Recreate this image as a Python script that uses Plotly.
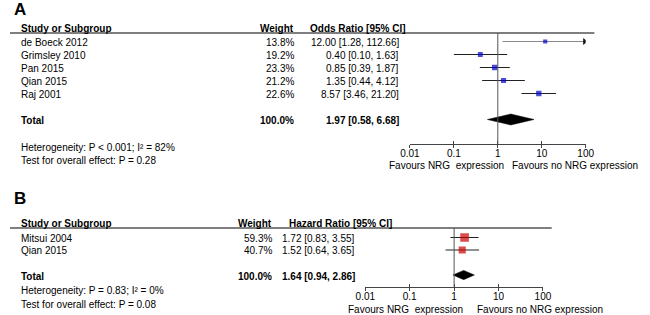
import plotly.graph_objects as go

# ---------------- data ----------------
studies_a = ["de Boeck 2012", "Grimsley 2010", "Pan 2015", "Qian 2015", "Raj 2001"]
weights_a = [13.8, 19.2, 23.3, 21.2, 22.6]
or_a = [12.00, 0.40, 0.85, 1.35, 8.57]
lo_a = [1.28, 0.10, 0.39, 0.44, 3.46]
hi_a = [112.66, 1.63, 1.87, 4.12, 21.20]
total_a = [1.97, 0.58, 6.68]  # est, lo, hi
het_a = "Heterogeneity: P < 0.001; I² = 82%"
test_a = "Test for overall effect: P = 0.28"

studies_b = ["Mitsui 2004", "Qian 2015"]
weights_b = [59.3, 40.7]
hr_b = [1.72, 1.52]
lo_b = [0.83, 0.64]
hi_b = [3.55, 3.65]
total_b = [1.64, 0.94, 2.86]
het_b = "Heterogeneity: P = 0.83; I² = 0%"
test_b = "Test for overall effect: P = 0.08"

tick_vals = [0.01, 0.1, 1, 10, 100]
tick_text = ["0.01", "0.1", "1", "10", "100"]
fav_left = "Favours NRG\u00a0\u00a0expression"
fav_right = "Favours no NRG expression"

# ---------------- layout helpers ----------------
W, H = 650, 315
FONT = "Liberation Sans, Arial, sans-serif"
def fx(px): return px / W
def fy(py): return 1 - py / H

fig = go.Figure()
annos = []
shapes = []

def txt(s, x, y, anchor="left", bold=False, size=10, color="#000"):
    annos.append(dict(text=f"<b>{s}</b>" if bold else s, x=fx(x), y=fy(y),
                      xref="paper", yref="paper", xanchor=anchor, yanchor="middle",
                      showarrow=False, font=dict(family=FONT, size=size, color=color)))

def panel(label, studies, weights, est, lo, hi, total, het, test, *,
          xa, ya, label_y, head_y, row0, step, total_y, axis_y, x_lo, x_hi,
          w_right, ci_right, ci_head_x, ci_title, line_end, het_y, test_y,
          fav_y, fav_l, fav_r, color, dia_h):
    n = len(studies)
    rng_top = (head_y - row0) / step
    rng_bot = (axis_y - row0) / step
    total_row = (total_y - row0) / step
    xname = "xaxis" + xa[1:]
    yname = "yaxis" + ya[1:]
    ax = dict(type="log", range=[-2, 2], domain=[fx(x_lo), fx(x_hi)], anchor=ya,
              tickvals=tick_vals, ticktext=tick_text, ticks="inside", ticklen=3,
              tickcolor="#444", showline=True, linecolor="#444", linewidth=1,
              showgrid=False, zeroline=False,
              tickfont=dict(family=FONT, size=10, color="#000"))
    fig.update_layout({xname: ax,
                       yname: dict(domain=[fy(axis_y), fy(head_y)], range=[rng_bot, rng_top],
                                   visible=False, anchor=xa)})
    # vertical line at 1
    shapes.append(dict(type="line", xref=xa, yref=ya + " domain", x0=1, x1=1, y0=0, y1=1,
                       line=dict(color="#555", width=1)))
    # header line
    shapes.append(dict(type="line", xref="paper", yref="paper", x0=0, x1=fx(line_end),
                       y0=fy(head_y), y1=fy(head_y), line=dict(color="#555", width=1.6)))
    xmax = 10 ** 2
    cx, cy, gx, gy, ax_, ay_ = [], [], [], [], [], []
    for i in range(n):
        if hi[i] > xmax:
            gx += [lo[i], xmax * 0.93, None]; gy += [i, i, None]
            ax_.append(xmax * 0.95); ay_.append(i)
        else:
            cx += [lo[i], hi[i], None]; cy += [i, i, None]
    fig.add_trace(go.Scatter(x=cx, y=cy, mode="lines", xaxis=xa, yaxis=ya,
                             line=dict(color="#222", width=1), hoverinfo="skip"))
    if gx:
        fig.add_trace(go.Scatter(x=gx, y=gy, mode="lines", xaxis=xa, yaxis=ya,
                                 line=dict(color="#888", width=1), hoverinfo="skip"))
        fig.add_trace(go.Scatter(x=ax_, y=ay_, mode="markers", xaxis=xa, yaxis=ya,
                                 marker=dict(symbol="triangle-right", size=6, color="#111"),
                                 hoverinfo="skip"))
    fig.add_trace(go.Scatter(x=est, y=list(range(n)), mode="markers", xaxis=xa, yaxis=ya,
                             marker=dict(symbol="square", color=color,
                                         size=[1.12 * w ** 0.5 for w in weights],
                                         line=dict(width=0))))
    e, l, h = total
    fig.add_trace(go.Scatter(x=[l, e, h, e, l], y=[total_row, total_row - dia_h, total_row,
                                                   total_row + dia_h, total_row],
                             mode="lines", fill="toself", fillcolor="#000",
                             line=dict(color="#000", width=0.5), xaxis=xa, yaxis=ya))
    # texts
    txt(label, 2, label_y, bold=True, size=17)
    txt("Study or Subgroup", 9, head_y - 5, bold=True)
    txt("Weight", w_right, head_y - 5, anchor="right", bold=True)
    txt(ci_title, ci_head_x, head_y - 5, bold=True)
    for i in range(n):
        y = row0 + step * i + 1
        txt(studies[i], 9, y)
        txt(f"{weights[i]:.1f}%", w_right, y, anchor="right")
        txt(f"{est[i]:.2f} [{lo[i]:.2f}, {hi[i]:.2f}]", ci_right, y, anchor="right")
    txt("Total", 9, total_y + 1, bold=True)
    txt("100.0%", w_right, total_y + 1, anchor="right", bold=True)
    txt(f"{e:.2f} [{l:.2f}, {h:.2f}]", ci_right, total_y + 1, anchor="right", bold=True)
    txt(het, 9, het_y)
    txt(test, 9, test_y)
    txt(fav_left, fav_l, fav_y, anchor="right")
    txt(fav_right, fav_r, fav_y, anchor="left")

panel("A", studies_a, weights_a, or_a, lo_a, hi_a, total_a, het_a, test_a,
      xa="x", ya="y", label_y=9, head_y=33, row0=41.5, step=13, total_y=119.5, axis_y=144,
      x_lo=412, x_hi=593, w_right=295, ci_right=403, ci_head_x=307,
      ci_title="Odds Ratio [95% CI]", line_end=602, het_y=147, test_y=160,
      fav_y=165, fav_l=511, fav_r=515, color="#0000CC", dia_h=0.42)

panel("B", studies_b, weights_b, hr_b, lo_b, hi_b, total_b, het_b, test_b,
      xa="x2", ya="y2", label_y=198, head_y=228, row0=237.5, step=12.5, total_y=275, axis_y=287,
      x_lo=366, x_hi=549, w_right=272, ci_right=357, ci_head_x=285,
      ci_title="Hazard Ratio [95% CI]", line_end=558, het_y=290, test_y=304,
      fav_y=309.5, fav_l=469, fav_r=479, color="#CC0000", dia_h=0.37)

# lower halves of the crossing ticks (outside) for both axes
for xa, ya, base in (("x3", "y", "x"), ("x4", "y2", "x2")):
    fig.update_layout({"xaxis" + xa[1:]: dict(type="log", overlaying=base, matches=base,
                                              anchor=ya, tickvals=tick_vals, ticks="outside",
                                              ticklen=3, tickcolor="#444", showticklabels=False,
                                              showgrid=False, zeroline=False, showline=False)})
    fig.add_trace(go.Scatter(x=[1], y=[None], xaxis=xa, yaxis=ya, mode="markers",
                             hoverinfo="skip"))

fig.update_layout(width=W, height=H, margin=dict(l=0, r=0, t=0, b=0),
                  paper_bgcolor="white", plot_bgcolor="white", showlegend=False,
                  annotations=annos, shapes=shapes,
                  font=dict(family=FONT, size=10, color="#000"))
fig.write_html("out.html", config={"displayModeBar": False},
               post_script="document.body.style.margin='0';"
                           "document.documentElement.style.overflow='hidden';")
